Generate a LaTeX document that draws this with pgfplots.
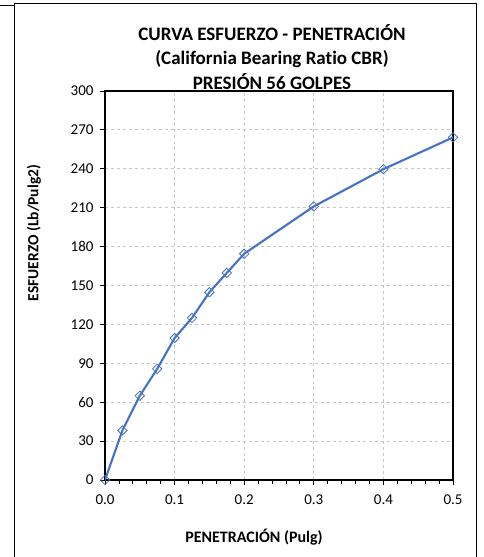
\documentclass[border=0pt]{standalone}
\usepackage{fontspec}
\setmainfont{Carlito}[Ligatures=NoCommon]
\usepackage{pgfplots}
\pgfplotsset{compat=1.18}
\definecolor{serie}{HTML}{4472C4}
\definecolor{rejilla}{HTML}{C6C6C6}
\begin{document}
\begin{tikzpicture}[x=1pt,y=1pt]
\path[use as bounding box] (0,0) rectangle (484,557);
% marco del grafico
\draw[line width=0.9pt] (14,0) -- (14,554) -- (476,554) -- (476,0);
\draw[line width=0.9pt] (0,552) -- (14,552);
\node[font=\bfseries\fontsize{19}{24.5}\selectfont, align=center] at (272,500)
  {CURVA ESFUERZO - PENETRACIÓN\\(California Bearing Ratio CBR)\\PRESIÓN 56 GOLPES};
\begin{axis}[
  at={(105pt,77pt)}, anchor=south west,
  scale only axis, width=348pt, height=389pt,
  xmin=0, xmax=0.5, ymin=0, ymax=300,
  xtick={0,0.1,0.2,0.3,0.4,0.5},
  ytick={0,30,60,90,120,150,180,210,240,270,300},
  minor x tick num=4,
  tick align=outside, xtick pos=bottom, ytick pos=left,
  major tick length=5pt, minor tick length=4pt,
  tick style={black, line width=0.8pt},
  axis line style={black, line width=1.2pt},
  grid=major,
  major grid style={rejilla, dashed, line width=0.8pt},
  /pgf/number format/assume math mode=true,
  ticklabel style={font=\fontsize{15}{17}\selectfont},
  xticklabel style={/pgf/number format/.cd, fixed, fixed zerofill, precision=1},
  xticklabel shift=6pt, yticklabel shift=3pt,
]
\addplot[serie, line width=2.1pt, mark=square, mark size=3.3pt,
  mark options={rotate=45, fill=white, line width=0.8pt}] coordinates {
  (0,0) (0.025,38.2) (0.05,65) (0.075,85.7) (0.1,109.5) (0.125,125)
  (0.15,144.8) (0.175,159.7) (0.2,174.5) (0.3,211) (0.4,239.7) (0.5,264.2)
};
\end{axis}
\node[font=\bfseries\fontsize{16}{18}\selectfont] at (254,20) {PENETRACIÓN (Pulg)};
\node[font=\bfseries\fontsize{15.5}{18}\selectfont, rotate=90] at (34,324) {ESFUERZO (Lb/Pulg2)};
\end{tikzpicture}
\end{document}
